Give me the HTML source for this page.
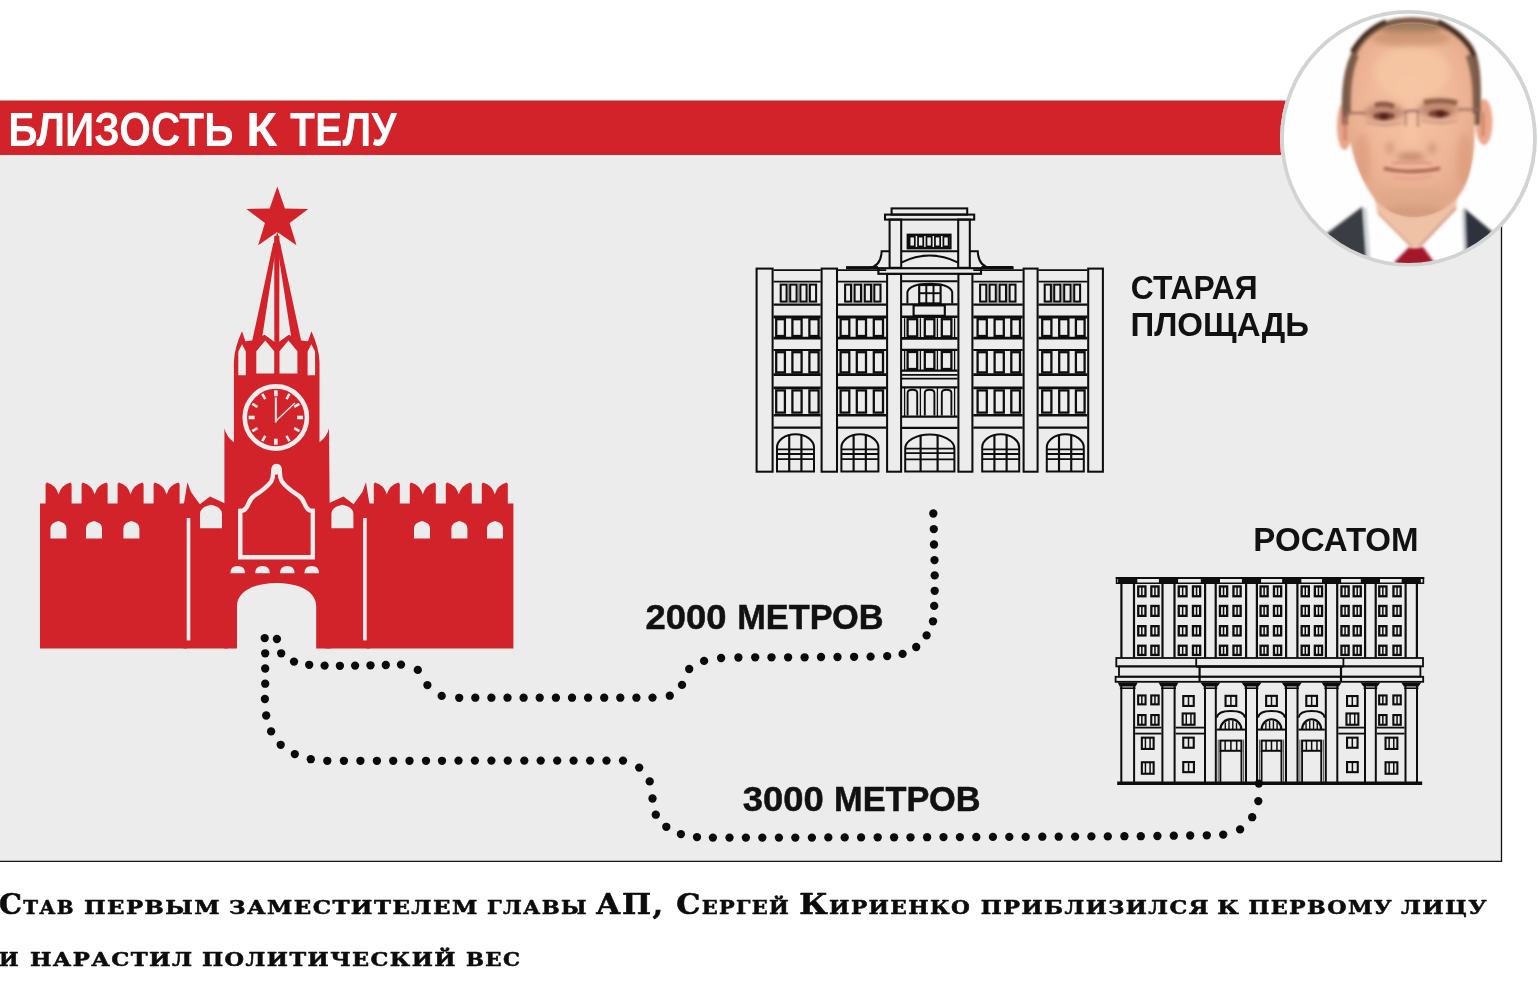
<!DOCTYPE html>
<html lang="ru">
<head>
<meta charset="utf-8">
<title>Близость к телу</title>
<style>
html,body{margin:0;padding:0;background:#fff;}
body{width:1538px;height:1000px;overflow:hidden;}
svg{display:block;}
</style>
</head>
<body>
<svg width="1538" height="1000" viewBox="0 0 1538 1000">
<rect width="1538" height="1000" fill="#fff"/>
<rect x="0" y="100.5" width="1501.5" height="761" fill="#ececec"/>
<path d="M1501.5 100.5V861.4H0" fill="none" stroke="#111" stroke-width="1.3"/>
<rect x="0" y="100.5" width="1420" height="54.5" fill="#d2232a"/>
<g id="kremlin">
<g fill="#d2232a"><path d="M40,503.6H187V648.6H40Z"/><path d="M366.4,503.6H513.4V648.6H366.4Z"/><path d="M45.6,504.5L45.6,483.9L46.800000000000004,482.4Q56.1,484.9 58.6,494.5Q61.099999999999994,484.9 70.39999999999999,482.4L71.6,483.9L71.6,504.5Z"/><path d="M481.8,504.5L481.8,483.9L483.0,482.4Q492.3,484.9 494.8,494.5Q497.3,484.9 506.6,482.4L507.8,483.9L507.8,504.5Z"/><path d="M81.6,504.5L81.6,483.9L82.8,482.4Q92.1,484.9 94.6,494.5Q97.1,484.9 106.39999999999999,482.4L107.6,483.9L107.6,504.5Z"/><path d="M445.8,504.5L445.8,483.9L447.0,482.4Q456.3,484.9 458.8,494.5Q461.3,484.9 470.6,482.4L471.8,483.9L471.8,504.5Z"/><path d="M117.6,504.5L117.6,483.9L118.8,482.4Q128.1,484.9 130.6,494.5Q133.1,484.9 142.4,482.4L143.6,483.9L143.6,504.5Z"/><path d="M409.8,504.5L409.8,483.9L411.0,482.4Q420.3,484.9 422.8,494.5Q425.3,484.9 434.6,482.4L435.8,483.9L435.8,504.5Z"/><path d="M153.6,504.5L153.6,483.9L154.79999999999998,482.4Q164.1,484.9 166.6,494.5Q169.1,484.9 178.4,482.4L179.6,483.9L179.6,504.5Z"/><path d="M373.8,504.5L373.8,483.9L375.0,482.4Q384.3,484.9 386.8,494.5Q389.3,484.9 398.6,482.4L399.8,483.9L399.8,504.5Z"/><path d="M183.5,505L184.6,500L187.4,482.2L191,492L199.8,504.2L210,496.6L224.6,503.2L228,503.2L228,648.6L183.5,648.6Z"/><path d="M369.9,505L368.8,500L366.0,482.2L362.4,492L353.6,504.2L343.4,496.6L328.8,503.2L325.4,503.2L325.4,648.6L369.9,648.6Z"/><path d="M224.4,648.6L224.4,428.2Q226.5,437 233.9,442.2L233.9,362Q234.3,348 242,331.3L245.4,341.2L252,340.6L264.6,334.8L276.7,343.5L288.8,334.8L301.4,340.6L308.0,341.2L311.4,331.3Q319.1,348 319.5,362L319.5,442.2Q326.9,437 329.0,428.2L330.8,648.6L329.0,648.6Z"/></g>
<polygon points="274.2,236 279.4,236 279.3,345 274.3,345" fill="#d2232a"/>
<polygon points="273.2,243.5 277.2,240 261.6,341 252.2,341" fill="#d2232a"/>
<polygon points="280.2,243.5 276.2,240 291.8,341 301.2,341" fill="#d2232a"/>
<polygon points="277.3,231 280.6,246 274,246" fill="#d2232a"/>
<polygon points="277.30,186.40 284.94,208.48 308.30,208.93 289.66,223.02 296.46,245.37 277.30,232.00 258.14,245.37 264.94,223.02 246.30,208.93 269.66,208.48" fill="#d2232a"/>
<path d="M238.3,375.2L238.3,351.5L242.05,344.3L245.8,351.5L245.8,375.2ZM307.6,375.2L307.6,351.5L311.35,344.3L315.1,351.5L315.1,375.2ZM256.3,373.6L256.3,351.2L265.25,340.6L274.2,351.2L274.2,373.6ZM279.5,373.6L279.5,351.2L288.45,340.6L297.4,351.2L297.4,373.6ZM237,650L237,606C237,592 253,583 276.6,583C300,583 316.2,592 316.2,606L316.2,650ZM200,528.2L200,514Q200,507.10 211.0,504.8Q222,507.10 222,514L222,528.2ZM331.4,528.2L331.4,514Q331.4,507.10 342.4,504.8Q353.4,507.10 353.4,514L353.4,528.2ZM50.4,538.6L50.4,528.5Q50.4,522.88 58.400000000000006,521Q66.4,522.88 66.4,528.5L66.4,538.6ZM487.0,538.6L487.0,528.5Q487.0,522.88 495.0,521Q503.0,522.88 503.0,528.5L503.0,538.6ZM86,538.6L86,528.5Q86,522.88 94.0,521Q102,522.88 102,528.5L102,538.6ZM451.4,538.6L451.4,528.5Q451.4,522.88 459.4,521Q467.4,522.88 467.4,528.5L467.4,538.6ZM123.4,538.6L123.4,528.5Q123.4,522.88 131.4,521Q139.4,522.88 139.4,528.5L139.4,538.6ZM414.0,538.6L414.0,528.5Q414.0,522.88 422.0,521Q430.0,522.88 430.0,528.5L430.0,538.6ZM230.4,573.2Q230.4,566 237.70000000000002,566Q245.0,566 245.0,573.2ZM255.2,573.2Q255.2,566 262.5,566Q269.8,566 269.8,573.2ZM280,573.2Q280,566 287.3,566Q294.6,566 294.6,573.2ZM304.4,573.2Q304.4,566 311.7,566Q319.0,566 319.0,573.2Z" fill="#ececec"/>
<rect x="186.7" y="518" width="3.6" height="122.4" fill="#f1eded"/>
<rect x="363.10" y="518" width="3.6" height="122.4" fill="#f1eded"/>
<path d="M240.3,557.2L240.3,510.8L243.5,510.4Q246.8,508.6 248.6,503.6Q250.4,498.4 254.5,495.6Q266,488.5 271.2,481.5Q273.4,477.5 273.2,471.5Q273.2,466 276.55,466Q279.9,466 279.9,471.5Q279.7,477.5 281.9,481.5Q287.1,488.5 298.6,495.6Q302.7,498.4 304.5,503.6Q306.3,508.6 309.6,510.4L312.8,510.8L312.8,557.2Z" fill="none" stroke="#f1eded" stroke-width="4.4" stroke-linejoin="miter"/>
<ellipse cx="276.55" cy="469.8" rx="4.2" ry="5" fill="#f1eded"/>
<circle cx="275.85" cy="417.5" r="31.1" fill="none" stroke="#f1eded" stroke-width="4.6"/>
<rect x="274.05" y="390.30" width="3.6" height="6" fill="#f1eded" transform="rotate(0 275.85 417.5)"/>
<rect x="274.55" y="390.30" width="2.6" height="6" fill="#f1eded" transform="rotate(30 275.85 417.5)"/>
<rect x="274.55" y="390.30" width="2.6" height="6" fill="#f1eded" transform="rotate(60 275.85 417.5)"/>
<rect x="274.05" y="390.30" width="3.6" height="6" fill="#f1eded" transform="rotate(90 275.85 417.5)"/>
<rect x="274.55" y="390.30" width="2.6" height="6" fill="#f1eded" transform="rotate(120 275.85 417.5)"/>
<rect x="274.55" y="390.30" width="2.6" height="6" fill="#f1eded" transform="rotate(150 275.85 417.5)"/>
<rect x="274.05" y="390.30" width="3.6" height="6" fill="#f1eded" transform="rotate(180 275.85 417.5)"/>
<rect x="274.55" y="390.30" width="2.6" height="6" fill="#f1eded" transform="rotate(210 275.85 417.5)"/>
<rect x="274.55" y="390.30" width="2.6" height="6" fill="#f1eded" transform="rotate(240 275.85 417.5)"/>
<rect x="274.05" y="390.30" width="3.6" height="6" fill="#f1eded" transform="rotate(270 275.85 417.5)"/>
<rect x="274.55" y="390.30" width="2.6" height="6" fill="#f1eded" transform="rotate(300 275.85 417.5)"/>
<rect x="274.55" y="390.30" width="2.6" height="6" fill="#f1eded" transform="rotate(330 275.85 417.5)"/>
<path d="M275.85,422.5L275.85,397.5" stroke="#f1eded" stroke-width="2" fill="none"/>
<path d="M275.85,421.0L294.85,403.0" stroke="#f1eded" stroke-width="1.3" fill="none"/>
</g>
<g id="bld1">
<g fill="none" stroke="#0d0d0d" stroke-width="1.9" stroke-linejoin="miter" stroke-linecap="butt">
<rect x="756.60" y="268.60" width="16.00" height="203.10" fill="none" stroke-width="2.05"/>
<rect x="821.60" y="268.60" width="15.40" height="203.10" fill="none" stroke-width="2.05"/>
<rect x="1023.60" y="268.60" width="14.00" height="203.10" fill="none" stroke-width="2.05"/>
<rect x="1088.20" y="268.60" width="14.70" height="203.10" fill="none" stroke-width="2.05"/>
<rect x="887.10" y="274.00" width="14.00" height="197.70" fill="none" stroke-width="2.05"/>
<rect x="958.40" y="274.00" width="14.00" height="197.70" fill="none" stroke-width="2.05"/>
<path d="M773.50,270.10H820.70" stroke-width="1.94"/><path d="M773.50,281.60H820.70" stroke-width="1.94"/><path d="M773.50,304.60H820.70" stroke-width="2.16"/><path d="M773.50,317.00H820.70" stroke-width="2.81"/><path d="M773.50,338.20H820.70" stroke-width="2.81"/><path d="M773.50,350.00H820.70" stroke-width="2.16"/><path d="M773.50,374.60H820.70" stroke-width="2.59"/><path d="M773.50,387.90H820.70" stroke-width="2.59"/><path d="M773.50,415.20H820.70" stroke-width="2.59"/><path d="M773.50,427.60H820.70" stroke-width="2.16"/><rect x="780.70" y="284.60" width="5.90" height="17.00" fill="none" stroke-width="2.05"/><rect x="790.20" y="284.60" width="6.40" height="17.00" fill="none" stroke-width="2.05"/><rect x="800.40" y="284.60" width="6.20" height="17.00" fill="none" stroke-width="2.05"/><rect x="809.90" y="284.60" width="6.20" height="17.00" fill="none" stroke-width="2.05"/><path d="M788.50,283.00V303.50" stroke-width="0.76" stroke="#777"/><path d="M798.50,283.00V303.50" stroke-width="0.76" stroke="#777"/><path d="M808.20,283.00V303.50" stroke-width="0.76" stroke="#777"/><rect x="776.20" y="319.20" width="8.70" height="16.80" fill="none" stroke-width="2.27"/><rect x="792.40" y="319.20" width="9.20" height="16.80" fill="none" stroke-width="2.27"/><rect x="809.40" y="319.20" width="9.20" height="16.80" fill="none" stroke-width="2.27"/><rect x="776.20" y="352.20" width="8.70" height="20.20" fill="none" stroke-width="2.27"/><rect x="792.40" y="352.20" width="9.20" height="20.20" fill="none" stroke-width="2.27"/><rect x="809.40" y="352.20" width="9.20" height="20.20" fill="none" stroke-width="2.27"/><rect x="776.20" y="390.40" width="8.70" height="22.20" fill="none" stroke-width="2.27"/><rect x="792.40" y="390.40" width="9.20" height="22.20" fill="none" stroke-width="2.27"/><rect x="809.40" y="390.40" width="9.20" height="22.20" fill="none" stroke-width="2.27"/><path d="M777.00,471.60V447.50A18.50,13.30 0 0 1 814.00,447.50V471.60Z" stroke-width="2"/><path d="M789.21,435.40V471.60" stroke-width="2.16"/><path d="M801.42,435.40V471.60" stroke-width="2.16"/><path d="M777.00,449.40H814.00" stroke-width="1.84"/><path d="M777.00,454.00H814.00" stroke-width="1.84"/><path d="M777.00,459.20H814.00" stroke-width="1.84"/>
<path d="M837.90,270.10H886.20" stroke-width="1.94"/><path d="M837.90,281.60H886.20" stroke-width="1.94"/><path d="M837.90,304.60H886.20" stroke-width="2.16"/><path d="M837.90,317.00H886.20" stroke-width="2.81"/><path d="M837.90,338.20H886.20" stroke-width="2.81"/><path d="M837.90,350.00H886.20" stroke-width="2.16"/><path d="M837.90,374.60H886.20" stroke-width="2.59"/><path d="M837.90,387.90H886.20" stroke-width="2.59"/><path d="M837.90,415.20H886.20" stroke-width="2.59"/><path d="M837.90,427.60H886.20" stroke-width="2.16"/><rect x="845.10" y="284.60" width="5.90" height="17.00" fill="none" stroke-width="2.05"/><rect x="854.60" y="284.60" width="6.40" height="17.00" fill="none" stroke-width="2.05"/><rect x="864.80" y="284.60" width="6.20" height="17.00" fill="none" stroke-width="2.05"/><rect x="874.30" y="284.60" width="6.20" height="17.00" fill="none" stroke-width="2.05"/><path d="M852.90,283.00V303.50" stroke-width="0.76" stroke="#777"/><path d="M862.90,283.00V303.50" stroke-width="0.76" stroke="#777"/><path d="M872.60,283.00V303.50" stroke-width="0.76" stroke="#777"/><rect x="840.60" y="319.20" width="8.70" height="16.80" fill="none" stroke-width="2.27"/><rect x="856.80" y="319.20" width="9.20" height="16.80" fill="none" stroke-width="2.27"/><rect x="873.80" y="319.20" width="9.20" height="16.80" fill="none" stroke-width="2.27"/><rect x="840.60" y="352.20" width="8.70" height="20.20" fill="none" stroke-width="2.27"/><rect x="856.80" y="352.20" width="9.20" height="20.20" fill="none" stroke-width="2.27"/><rect x="873.80" y="352.20" width="9.20" height="20.20" fill="none" stroke-width="2.27"/><rect x="840.60" y="390.40" width="8.70" height="22.20" fill="none" stroke-width="2.27"/><rect x="856.80" y="390.40" width="9.20" height="22.20" fill="none" stroke-width="2.27"/><rect x="873.80" y="390.40" width="9.20" height="22.20" fill="none" stroke-width="2.27"/><path d="M841.40,471.60V447.50A18.50,13.30 0 0 1 878.40,447.50V471.60Z" stroke-width="2"/><path d="M853.61,435.40V471.60" stroke-width="2.16"/><path d="M865.82,435.40V471.60" stroke-width="2.16"/><path d="M841.40,449.40H878.40" stroke-width="1.84"/><path d="M841.40,454.00H878.40" stroke-width="1.84"/><path d="M841.40,459.20H878.40" stroke-width="1.84"/>
<path d="M973.30,270.10H1022.70" stroke-width="1.94"/><path d="M973.30,281.60H1022.70" stroke-width="1.94"/><path d="M973.30,304.60H1022.70" stroke-width="2.16"/><path d="M973.30,317.00H1022.70" stroke-width="2.81"/><path d="M973.30,338.20H1022.70" stroke-width="2.81"/><path d="M973.30,350.00H1022.70" stroke-width="2.16"/><path d="M973.30,374.60H1022.70" stroke-width="2.59"/><path d="M973.30,387.90H1022.70" stroke-width="2.59"/><path d="M973.30,415.20H1022.70" stroke-width="2.59"/><path d="M973.30,427.60H1022.70" stroke-width="2.16"/><rect x="1009.60" y="284.60" width="5.90" height="17.00" fill="none" stroke-width="2.05"/><rect x="999.60" y="284.60" width="6.40" height="17.00" fill="none" stroke-width="2.05"/><rect x="989.60" y="284.60" width="6.20" height="17.00" fill="none" stroke-width="2.05"/><rect x="980.10" y="284.60" width="6.20" height="17.00" fill="none" stroke-width="2.05"/><path d="M1007.70,283.00V303.50" stroke-width="0.76" stroke="#777"/><path d="M997.70,283.00V303.50" stroke-width="0.76" stroke="#777"/><path d="M988.00,283.00V303.50" stroke-width="0.76" stroke="#777"/><rect x="1011.30" y="319.20" width="8.70" height="16.80" fill="none" stroke-width="2.27"/><rect x="994.60" y="319.20" width="9.20" height="16.80" fill="none" stroke-width="2.27"/><rect x="977.60" y="319.20" width="9.20" height="16.80" fill="none" stroke-width="2.27"/><rect x="1011.30" y="352.20" width="8.70" height="20.20" fill="none" stroke-width="2.27"/><rect x="994.60" y="352.20" width="9.20" height="20.20" fill="none" stroke-width="2.27"/><rect x="977.60" y="352.20" width="9.20" height="20.20" fill="none" stroke-width="2.27"/><rect x="1011.30" y="390.40" width="8.70" height="22.20" fill="none" stroke-width="2.27"/><rect x="994.60" y="390.40" width="9.20" height="22.20" fill="none" stroke-width="2.27"/><rect x="977.60" y="390.40" width="9.20" height="22.20" fill="none" stroke-width="2.27"/><path d="M982.20,471.60V447.50A18.50,13.30 0 0 1 1019.20,447.50V471.60Z" stroke-width="2"/><path d="M994.41,435.40V471.60" stroke-width="2.16"/><path d="M1006.62,435.40V471.60" stroke-width="2.16"/><path d="M982.20,449.40H1019.20" stroke-width="1.84"/><path d="M982.20,454.00H1019.20" stroke-width="1.84"/><path d="M982.20,459.20H1019.20" stroke-width="1.84"/>
<path d="M1038.50,270.10H1087.30" stroke-width="1.94"/><path d="M1038.50,281.60H1087.30" stroke-width="1.94"/><path d="M1038.50,304.60H1087.30" stroke-width="2.16"/><path d="M1038.50,317.00H1087.30" stroke-width="2.81"/><path d="M1038.50,338.20H1087.30" stroke-width="2.81"/><path d="M1038.50,350.00H1087.30" stroke-width="2.16"/><path d="M1038.50,374.60H1087.30" stroke-width="2.59"/><path d="M1038.50,387.90H1087.30" stroke-width="2.59"/><path d="M1038.50,415.20H1087.30" stroke-width="2.59"/><path d="M1038.50,427.60H1087.30" stroke-width="2.16"/><rect x="1074.20" y="284.60" width="5.90" height="17.00" fill="none" stroke-width="2.05"/><rect x="1064.20" y="284.60" width="6.40" height="17.00" fill="none" stroke-width="2.05"/><rect x="1054.20" y="284.60" width="6.20" height="17.00" fill="none" stroke-width="2.05"/><rect x="1044.70" y="284.60" width="6.20" height="17.00" fill="none" stroke-width="2.05"/><path d="M1072.30,283.00V303.50" stroke-width="0.76" stroke="#777"/><path d="M1062.30,283.00V303.50" stroke-width="0.76" stroke="#777"/><path d="M1052.60,283.00V303.50" stroke-width="0.76" stroke="#777"/><rect x="1075.90" y="319.20" width="8.70" height="16.80" fill="none" stroke-width="2.27"/><rect x="1059.20" y="319.20" width="9.20" height="16.80" fill="none" stroke-width="2.27"/><rect x="1042.20" y="319.20" width="9.20" height="16.80" fill="none" stroke-width="2.27"/><rect x="1075.90" y="352.20" width="8.70" height="20.20" fill="none" stroke-width="2.27"/><rect x="1059.20" y="352.20" width="9.20" height="20.20" fill="none" stroke-width="2.27"/><rect x="1042.20" y="352.20" width="9.20" height="20.20" fill="none" stroke-width="2.27"/><rect x="1075.90" y="390.40" width="8.70" height="22.20" fill="none" stroke-width="2.27"/><rect x="1059.20" y="390.40" width="9.20" height="22.20" fill="none" stroke-width="2.27"/><rect x="1042.20" y="390.40" width="9.20" height="22.20" fill="none" stroke-width="2.27"/><path d="M1046.80,471.60V447.50A18.50,13.30 0 0 1 1083.80,447.50V471.60Z" stroke-width="2"/><path d="M1059.01,435.40V471.60" stroke-width="2.16"/><path d="M1071.22,435.40V471.60" stroke-width="2.16"/><path d="M1046.80,449.40H1083.80" stroke-width="1.84"/><path d="M1046.80,454.00H1083.80" stroke-width="1.84"/><path d="M1046.80,459.20H1083.80" stroke-width="1.84"/>
<rect x="891.60" y="208.40" width="75.60" height="6.20" fill="none" stroke-width="2.05"/>
<rect x="885.00" y="214.60" width="89.20" height="5.00" fill="none" stroke-width="2.05"/>
<rect x="889.60" y="219.60" width="11.60" height="48.20" fill="none" stroke-width="2.05"/>
<rect x="958.20" y="219.60" width="11.60" height="48.20" fill="none" stroke-width="2.05"/>
<rect x="907.80" y="234.80" width="42.60" height="13.40" fill="none" stroke-width="2.38"/>
<rect x="909.60" y="236.60" width="5.20" height="9.80" fill="none" stroke-width="1.73"/>
<rect x="918.05" y="236.60" width="5.20" height="9.80" fill="none" stroke-width="1.73"/>
<rect x="926.50" y="236.60" width="5.20" height="9.80" fill="none" stroke-width="1.73"/>
<rect x="934.95" y="236.60" width="5.20" height="9.80" fill="none" stroke-width="1.73"/>
<rect x="943.40" y="236.60" width="5.20" height="9.80" fill="none" stroke-width="1.73"/>
<path d="M901.20,251.20H958.20" stroke-width="1.94"/>
<path d="M901.2,262.6Q929.6,248.6 958.2,262.6" stroke-width="2"/>
<rect x="878.40" y="268.20" width="102.60" height="5.60" fill="none" stroke-width="2.16"/>
<path d="M889.6,251.2H881.6Q881.2,266.6 868,268.2H846" stroke-width="2"/>
<path d="M878,267.6H846" stroke-width="3"/>
<path d="M969.8,251.2H977.8Q978.2,266.6 991.4,268.2H1013.4" stroke-width="2"/>
<path d="M981.4,267.6H1013.4" stroke-width="3"/>
<path d="M902.00,281.20H957.60" stroke-width="1.94"/>
<path d="M902.00,304.40H957.60" stroke-width="2.38"/>
<path d="M902.00,316.80H957.60" stroke-width="2.59"/>
<path d="M902.00,338.40H957.60" stroke-width="2.59"/>
<path d="M902.00,349.80H957.60" stroke-width="2.16"/>
<path d="M902.00,370.60H957.60" stroke-width="2.16"/>
<path d="M902.00,374.80H957.60" stroke-width="1.73"/>
<path d="M902.00,378.60H957.60" stroke-width="1.94"/>
<path d="M902.00,387.40H957.60" stroke-width="2.16"/>
<path d="M902.00,416.60H957.60" stroke-width="2.38"/>
<path d="M902.00,427.80H957.60" stroke-width="2.16"/>
<path d="M907.4,303.6V292Q910,283.8 929.8,283.8Q949.6,283.8 952.2,292V303.6" stroke-width="2"/>
<rect x="919.20" y="285.00" width="21.40" height="18.40" fill="none" stroke-width="2.16"/>
<path d="M926.30,285.00V303.40" stroke-width="1.94"/>
<path d="M933.50,285.00V303.40" stroke-width="1.94"/>
<path d="M919.20,293.20H940.60" stroke-width="1.94"/>
<rect x="913.60" y="305.40" width="31.20" height="10.40" fill="none" stroke-width="2.16"/>
<rect x="907.60" y="319.20" width="9.60" height="17.20" fill="none" stroke-width="2.27"/>
<rect x="924.80" y="319.20" width="9.60" height="17.20" fill="none" stroke-width="2.27"/>
<rect x="941.80" y="319.20" width="9.60" height="17.20" fill="none" stroke-width="2.27"/>
<path d="M904.60,318.20V337.40" stroke-width="1.30"/>
<path d="M920.40,318.20V337.40" stroke-width="1.30"/>
<path d="M937.40,318.20V337.40" stroke-width="1.30"/>
<path d="M954.60,318.20V337.40" stroke-width="1.30"/>
<rect x="907.60" y="352.00" width="9.60" height="17.00" fill="none" stroke-width="2.27"/>
<rect x="924.80" y="352.00" width="9.60" height="17.00" fill="none" stroke-width="2.27"/>
<rect x="941.80" y="352.00" width="9.60" height="17.00" fill="none" stroke-width="2.27"/>
<path d="M904.60,351.00V370.00" stroke-width="1.30"/>
<path d="M920.40,351.00V370.00" stroke-width="1.30"/>
<path d="M937.40,351.00V370.00" stroke-width="1.30"/>
<path d="M954.60,351.00V370.00" stroke-width="1.30"/>
<path d="M907.6,415.4V393Q907.6,389.8 912.4,389.8Q917.2,389.8 917.2,393V415.4" stroke-width="1.9"/>
<path d="M924.8,415.4V393Q924.8,389.8 929.5999999999999,389.8Q934.4,389.8 934.4,393V415.4" stroke-width="1.9"/>
<path d="M941.8,415.4V393Q941.8,389.8 946.5999999999999,389.8Q951.4,389.8 951.4,393V415.4" stroke-width="1.9"/>
<path d="M904.60,388.00V416.00" stroke-width="1.30"/>
<path d="M920.40,388.00V416.00" stroke-width="1.30"/>
<path d="M937.40,388.00V416.00" stroke-width="1.30"/>
<path d="M954.60,388.00V416.00" stroke-width="1.30"/>
<path d="M905.20,471.60V448.50A24.60,14.10 0 0 1 954.40,448.50V471.60Z" stroke-width="2"/><path d="M920.60,435.60V471.60" stroke-width="2.16"/><path d="M937.60,435.60V471.60" stroke-width="2.16"/><path d="M905.20,448.60H954.40" stroke-width="1.84"/><path d="M905.20,453.20H954.40" stroke-width="1.84"/><path d="M905.20,459.40H954.40" stroke-width="1.84"/>
</g>
</g>
<g id="bld2">
<g fill="none" stroke="#0d0d0d" stroke-width="1.8" stroke-linecap="butt" stroke-linejoin="miter">
<path d="M1115.8,578.0H1424.2" stroke-width="2.0"/>
<path d="M1116.6,583.3H1423.4" stroke-width="1.5"/>
<path d="M1116.6,577H1116.6V584M1423.4,577V584" stroke-width="1.6"/>
<rect x="1118.10" y="577.2" width="19.2" height="6.8" fill="#0d0d0d" stroke="none"/>
<rect x="1158.90" y="577.2" width="19.2" height="6.8" fill="#0d0d0d" stroke="none"/>
<rect x="1200.80" y="577.2" width="19.2" height="6.8" fill="#0d0d0d" stroke="none"/>
<rect x="1241.90" y="577.2" width="19.2" height="6.8" fill="#0d0d0d" stroke="none"/>
<rect x="1282.15" y="577.2" width="19.2" height="6.8" fill="#0d0d0d" stroke="none"/>
<rect x="1321.95" y="577.2" width="19.2" height="6.8" fill="#0d0d0d" stroke="none"/>
<rect x="1360.80" y="577.2" width="19.2" height="6.8" fill="#0d0d0d" stroke="none"/>
<rect x="1401.65" y="577.2" width="19.2" height="6.8" fill="#0d0d0d" stroke="none"/>
<path d="M1121.40,583.50V657.50" stroke-width="2.2"/>
<path d="M1134.00,583.50V657.50" stroke-width="2.2"/>
<path d="M1162.50,583.50V657.50" stroke-width="2.2"/>
<path d="M1174.50,583.50V657.50" stroke-width="2.2"/>
<path d="M1205.10,583.50V657.50" stroke-width="2.2"/>
<path d="M1215.70,583.50V657.50" stroke-width="2.2"/>
<path d="M1246.10,583.50V657.50" stroke-width="2.2"/>
<path d="M1256.90,583.50V657.50" stroke-width="2.2"/>
<path d="M1286.10,583.50V657.50" stroke-width="2.2"/>
<path d="M1297.40,583.50V657.50" stroke-width="2.2"/>
<path d="M1325.90,583.50V657.50" stroke-width="2.2"/>
<path d="M1337.20,583.50V657.50" stroke-width="2.2"/>
<path d="M1365.10,583.50V657.50" stroke-width="2.2"/>
<path d="M1375.70,583.50V657.50" stroke-width="2.2"/>
<path d="M1405.60,583.50V657.50" stroke-width="2.2"/>
<path d="M1416.90,583.50V657.50" stroke-width="2.2"/>
<rect x="1138.25" y="586.45" width="7.20" height="9.80" stroke-width="2.3"/><path d="M1141.85,586.45V596.25" stroke-width="1.5"/>
<rect x="1138.25" y="605.95" width="7.20" height="9.90" stroke-width="2.3"/><path d="M1141.85,605.95V615.85" stroke-width="1.5"/>
<rect x="1138.25" y="626.15" width="7.20" height="9.30" stroke-width="2.3"/><path d="M1141.85,626.15V635.45" stroke-width="1.5"/>
<rect x="1138.25" y="645.75" width="7.20" height="9.20" stroke-width="2.3"/><path d="M1141.85,645.75V654.95" stroke-width="1.5"/>
<rect x="1151.35" y="586.45" width="7.20" height="9.80" stroke-width="2.3"/><path d="M1154.95,586.45V596.25" stroke-width="1.5"/>
<rect x="1151.35" y="605.95" width="7.20" height="9.90" stroke-width="2.3"/><path d="M1154.95,605.95V615.85" stroke-width="1.5"/>
<rect x="1151.35" y="626.15" width="7.20" height="9.30" stroke-width="2.3"/><path d="M1154.95,626.15V635.45" stroke-width="1.5"/>
<rect x="1151.35" y="645.75" width="7.20" height="9.20" stroke-width="2.3"/><path d="M1154.95,645.75V654.95" stroke-width="1.5"/>
<rect x="1178.75" y="586.45" width="7.80" height="9.80" stroke-width="2.3"/><path d="M1182.65,586.45V596.25" stroke-width="1.5"/>
<rect x="1178.75" y="605.95" width="7.80" height="9.90" stroke-width="2.3"/><path d="M1182.65,605.95V615.85" stroke-width="1.5"/>
<rect x="1178.75" y="626.15" width="7.80" height="9.30" stroke-width="2.3"/><path d="M1182.65,626.15V635.45" stroke-width="1.5"/>
<rect x="1178.75" y="645.75" width="7.80" height="9.20" stroke-width="2.3"/><path d="M1182.65,645.75V654.95" stroke-width="1.5"/>
<rect x="1192.95" y="586.45" width="7.20" height="9.80" stroke-width="2.3"/><path d="M1196.55,586.45V596.25" stroke-width="1.5"/>
<rect x="1192.95" y="605.95" width="7.20" height="9.90" stroke-width="2.3"/><path d="M1196.55,605.95V615.85" stroke-width="1.5"/>
<rect x="1192.95" y="626.15" width="7.20" height="9.30" stroke-width="2.3"/><path d="M1196.55,626.15V635.45" stroke-width="1.5"/>
<rect x="1192.95" y="645.75" width="7.20" height="9.20" stroke-width="2.3"/><path d="M1196.55,645.75V654.95" stroke-width="1.5"/>
<rect x="1219.95" y="586.45" width="7.20" height="9.80" stroke-width="2.3"/><path d="M1223.55,586.45V596.25" stroke-width="1.5"/>
<rect x="1219.95" y="605.95" width="7.20" height="9.90" stroke-width="2.3"/><path d="M1223.55,605.95V615.85" stroke-width="1.5"/>
<rect x="1219.95" y="626.15" width="7.20" height="9.30" stroke-width="2.3"/><path d="M1223.55,626.15V635.45" stroke-width="1.5"/>
<rect x="1219.95" y="645.75" width="7.20" height="9.20" stroke-width="2.3"/><path d="M1223.55,645.75V654.95" stroke-width="1.5"/>
<rect x="1233.45" y="586.45" width="7.20" height="9.80" stroke-width="2.3"/><path d="M1237.05,586.45V596.25" stroke-width="1.5"/>
<rect x="1233.45" y="605.95" width="7.20" height="9.90" stroke-width="2.3"/><path d="M1237.05,605.95V615.85" stroke-width="1.5"/>
<rect x="1233.45" y="626.15" width="7.20" height="9.30" stroke-width="2.3"/><path d="M1237.05,626.15V635.45" stroke-width="1.5"/>
<rect x="1233.45" y="645.75" width="7.20" height="9.20" stroke-width="2.3"/><path d="M1237.05,645.75V654.95" stroke-width="1.5"/>
<rect x="1260.55" y="586.45" width="7.10" height="9.80" stroke-width="2.3"/><path d="M1264.10,586.45V596.25" stroke-width="1.5"/>
<rect x="1260.55" y="605.95" width="7.10" height="9.90" stroke-width="2.3"/><path d="M1264.10,605.95V615.85" stroke-width="1.5"/>
<rect x="1260.55" y="626.15" width="7.10" height="9.30" stroke-width="2.3"/><path d="M1264.10,626.15V635.45" stroke-width="1.5"/>
<rect x="1260.55" y="645.75" width="7.10" height="9.20" stroke-width="2.3"/><path d="M1264.10,645.75V654.95" stroke-width="1.5"/>
<rect x="1273.95" y="586.45" width="7.20" height="9.80" stroke-width="2.3"/><path d="M1277.55,586.45V596.25" stroke-width="1.5"/>
<rect x="1273.95" y="605.95" width="7.20" height="9.90" stroke-width="2.3"/><path d="M1277.55,605.95V615.85" stroke-width="1.5"/>
<rect x="1273.95" y="626.15" width="7.20" height="9.30" stroke-width="2.3"/><path d="M1277.55,626.15V635.45" stroke-width="1.5"/>
<rect x="1273.95" y="645.75" width="7.20" height="9.20" stroke-width="2.3"/><path d="M1277.55,645.75V654.95" stroke-width="1.5"/>
<rect x="1301.65" y="586.45" width="7.20" height="9.80" stroke-width="2.3"/><path d="M1305.25,586.45V596.25" stroke-width="1.5"/>
<rect x="1301.65" y="605.95" width="7.20" height="9.90" stroke-width="2.3"/><path d="M1305.25,605.95V615.85" stroke-width="1.5"/>
<rect x="1301.65" y="626.15" width="7.20" height="9.30" stroke-width="2.3"/><path d="M1305.25,626.15V635.45" stroke-width="1.5"/>
<rect x="1301.65" y="645.75" width="7.20" height="9.20" stroke-width="2.3"/><path d="M1305.25,645.75V654.95" stroke-width="1.5"/>
<rect x="1314.85" y="586.45" width="7.20" height="9.80" stroke-width="2.3"/><path d="M1318.45,586.45V596.25" stroke-width="1.5"/>
<rect x="1314.85" y="605.95" width="7.20" height="9.90" stroke-width="2.3"/><path d="M1318.45,605.95V615.85" stroke-width="1.5"/>
<rect x="1314.85" y="626.15" width="7.20" height="9.30" stroke-width="2.3"/><path d="M1318.45,626.15V635.45" stroke-width="1.5"/>
<rect x="1314.85" y="645.75" width="7.20" height="9.20" stroke-width="2.3"/><path d="M1318.45,645.75V654.95" stroke-width="1.5"/>
<rect x="1341.45" y="586.45" width="7.20" height="9.80" stroke-width="2.3"/><path d="M1345.05,586.45V596.25" stroke-width="1.5"/>
<rect x="1341.45" y="605.95" width="7.20" height="9.90" stroke-width="2.3"/><path d="M1345.05,605.95V615.85" stroke-width="1.5"/>
<rect x="1341.45" y="626.15" width="7.20" height="9.30" stroke-width="2.3"/><path d="M1345.05,626.15V635.45" stroke-width="1.5"/>
<rect x="1341.45" y="645.75" width="7.20" height="9.20" stroke-width="2.3"/><path d="M1345.05,645.75V654.95" stroke-width="1.5"/>
<rect x="1353.65" y="586.45" width="7.10" height="9.80" stroke-width="2.3"/><path d="M1357.20,586.45V596.25" stroke-width="1.5"/>
<rect x="1353.65" y="605.95" width="7.10" height="9.90" stroke-width="2.3"/><path d="M1357.20,605.95V615.85" stroke-width="1.5"/>
<rect x="1353.65" y="626.15" width="7.10" height="9.30" stroke-width="2.3"/><path d="M1357.20,626.15V635.45" stroke-width="1.5"/>
<rect x="1353.65" y="645.75" width="7.10" height="9.20" stroke-width="2.3"/><path d="M1357.20,645.75V654.95" stroke-width="1.5"/>
<rect x="1379.25" y="586.45" width="7.20" height="9.80" stroke-width="2.3"/><path d="M1382.85,586.45V596.25" stroke-width="1.5"/>
<rect x="1379.25" y="605.95" width="7.20" height="9.90" stroke-width="2.3"/><path d="M1382.85,605.95V615.85" stroke-width="1.5"/>
<rect x="1379.25" y="626.15" width="7.20" height="9.30" stroke-width="2.3"/><path d="M1382.85,626.15V635.45" stroke-width="1.5"/>
<rect x="1379.25" y="645.75" width="7.20" height="9.20" stroke-width="2.3"/><path d="M1382.85,645.75V654.95" stroke-width="1.5"/>
<rect x="1393.45" y="586.45" width="7.20" height="9.80" stroke-width="2.3"/><path d="M1397.05,586.45V596.25" stroke-width="1.5"/>
<rect x="1393.45" y="605.95" width="7.20" height="9.90" stroke-width="2.3"/><path d="M1397.05,605.95V615.85" stroke-width="1.5"/>
<rect x="1393.45" y="626.15" width="7.20" height="9.30" stroke-width="2.3"/><path d="M1397.05,626.15V635.45" stroke-width="1.5"/>
<rect x="1393.45" y="645.75" width="7.20" height="9.20" stroke-width="2.3"/><path d="M1397.05,645.75V654.95" stroke-width="1.5"/>
<rect x="1116.30" y="658.00" width="306.70" height="8.40" stroke-width="1.8"/>
<path d="M1196.20,658.00V666.40" stroke-width="1.8"/>
<path d="M1343.40,658.00V666.40" stroke-width="1.8"/>
<path d="M1196.20,666.60H1343.40" stroke-width="2.4"/>
<rect x="1119.00" y="666.40" width="301.40" height="10.20" stroke-width="1.8"/>
<path d="M1199.60,666.40V682.00" stroke-width="2.2"/>
<path d="M1341.00,666.40V682.00" stroke-width="2.2"/>
<rect x="1115.60" y="676.80" width="307.60" height="5.00" stroke-width="1.8"/>
<path d="M1117.70,682.4H1137.70L1135.70,686.4H1119.70Z" fill="#0d0d0d" stroke="none"/>
<path d="M1119.90,688.20H1135.50" stroke-width="1.6"/>
<path d="M1121.30,686.00V782.00" stroke-width="2.0"/>
<path d="M1134.10,686.00V782.00" stroke-width="2.0"/>
<path d="M1158.50,682.4H1178.50L1176.20,686.4H1160.80Z" fill="#0d0d0d" stroke="none"/>
<path d="M1161.00,688.20H1176.00" stroke-width="1.6"/>
<path d="M1162.40,686.00V782.00" stroke-width="2.0"/>
<path d="M1174.60,686.00V782.00" stroke-width="2.0"/>
<path d="M1200.40,682.4H1220.40L1217.40,686.4H1203.40Z" fill="#0d0d0d" stroke="none"/>
<path d="M1203.60,688.20H1217.20" stroke-width="1.6"/>
<path d="M1205.00,686.00V782.00" stroke-width="2.0"/>
<path d="M1215.80,686.00V782.00" stroke-width="2.0"/>
<path d="M1241.50,682.4H1261.50L1258.60,686.4H1244.40Z" fill="#0d0d0d" stroke="none"/>
<path d="M1244.60,688.20H1258.40" stroke-width="1.6"/>
<path d="M1246.00,686.00V782.00" stroke-width="2.0"/>
<path d="M1257.00,686.00V782.00" stroke-width="2.0"/>
<path d="M1281.75,682.4H1301.75L1299.10,686.4H1284.40Z" fill="#0d0d0d" stroke="none"/>
<path d="M1284.60,688.20H1298.90" stroke-width="1.6"/>
<path d="M1286.00,686.00V782.00" stroke-width="2.0"/>
<path d="M1297.50,686.00V782.00" stroke-width="2.0"/>
<path d="M1321.55,682.4H1341.55L1338.90,686.4H1324.20Z" fill="#0d0d0d" stroke="none"/>
<path d="M1324.40,688.20H1338.70" stroke-width="1.6"/>
<path d="M1325.80,686.00V782.00" stroke-width="2.0"/>
<path d="M1337.30,686.00V782.00" stroke-width="2.0"/>
<path d="M1360.40,682.4H1380.40L1377.40,686.4H1363.40Z" fill="#0d0d0d" stroke="none"/>
<path d="M1363.60,688.20H1377.20" stroke-width="1.6"/>
<path d="M1365.00,686.00V782.00" stroke-width="2.0"/>
<path d="M1375.80,686.00V782.00" stroke-width="2.0"/>
<path d="M1401.25,682.4H1421.25L1418.60,686.4H1403.90Z" fill="#0d0d0d" stroke="none"/>
<path d="M1404.10,688.20H1418.40" stroke-width="1.6"/>
<path d="M1405.50,686.00V782.00" stroke-width="2.0"/>
<path d="M1417.00,686.00V782.00" stroke-width="2.0"/>
<path d="M1117.2,783.2H1422.2" stroke-width="3.6"/>
<rect x="1138.15" y="695.45" width="7.40" height="8.90" stroke-width="2.1"/><path d="M1141.85,695.45V704.35" stroke-width="1.5"/>
<rect x="1151.25" y="695.45" width="7.40" height="8.90" stroke-width="2.1"/><path d="M1154.95,695.45V704.35" stroke-width="1.5"/>
<rect x="1138.15" y="715.05" width="7.40" height="9.70" stroke-width="2.1"/><path d="M1141.85,715.05V724.75" stroke-width="1.5"/>
<rect x="1151.25" y="715.05" width="7.40" height="9.70" stroke-width="2.1"/><path d="M1154.95,715.05V724.75" stroke-width="1.5"/>
<rect x="1141.85" y="737.65" width="11.80" height="11.30" stroke-width="2.1"/><path d="M1145.43,737.65V748.95" stroke-width="1.5"/><path d="M1150.07,737.65V748.95" stroke-width="1.5"/>
<rect x="1141.85" y="762.25" width="11.80" height="11.50" stroke-width="2.1"/><path d="M1145.43,762.25V773.75" stroke-width="1.5"/><path d="M1150.07,762.25V773.75" stroke-width="1.5"/>
<rect x="1379.15" y="695.45" width="7.40" height="8.90" stroke-width="2.1"/><path d="M1382.85,695.45V704.35" stroke-width="1.5"/>
<rect x="1393.35" y="695.45" width="7.40" height="8.90" stroke-width="2.1"/><path d="M1397.05,695.45V704.35" stroke-width="1.5"/>
<rect x="1379.15" y="715.05" width="7.40" height="9.70" stroke-width="2.1"/><path d="M1382.85,715.05V724.75" stroke-width="1.5"/>
<rect x="1393.35" y="715.05" width="7.40" height="9.70" stroke-width="2.1"/><path d="M1397.05,715.05V724.75" stroke-width="1.5"/>
<rect x="1385.55" y="737.65" width="11.80" height="11.30" stroke-width="2.1"/><path d="M1389.13,737.65V748.95" stroke-width="1.5"/><path d="M1393.77,737.65V748.95" stroke-width="1.5"/>
<rect x="1385.55" y="762.25" width="11.80" height="11.50" stroke-width="2.1"/><path d="M1389.13,762.25V773.75" stroke-width="1.5"/><path d="M1393.77,762.25V773.75" stroke-width="1.5"/>
<rect x="1183.25" y="696.05" width="10.50" height="9.90" stroke-width="2.1"/><path d="M1188.50,696.05V705.95" stroke-width="1.5"/>
<rect x="1182.65" y="713.45" width="11.90" height="11.30" stroke-width="2.1"/><path d="M1186.27,713.45V724.75" stroke-width="1.5"/><path d="M1190.93,713.45V724.75" stroke-width="1.5"/>
<rect x="1183.25" y="737.65" width="10.50" height="10.10" stroke-width="2.1"/><path d="M1188.50,737.65V747.75" stroke-width="1.5"/>
<rect x="1183.25" y="762.05" width="10.70" height="10.10" stroke-width="2.1"/><path d="M1188.60,762.05V772.15" stroke-width="1.5"/>
<rect x="1347.05" y="696.05" width="10.50" height="9.90" stroke-width="2.1"/><path d="M1352.30,696.05V705.95" stroke-width="1.5"/>
<rect x="1346.45" y="713.45" width="11.90" height="11.30" stroke-width="2.1"/><path d="M1350.07,713.45V724.75" stroke-width="1.5"/><path d="M1354.73,713.45V724.75" stroke-width="1.5"/>
<rect x="1347.05" y="737.65" width="10.50" height="10.10" stroke-width="2.1"/><path d="M1352.30,737.65V747.75" stroke-width="1.5"/>
<rect x="1347.05" y="762.05" width="10.70" height="10.10" stroke-width="2.1"/><path d="M1352.40,762.05V772.15" stroke-width="1.5"/>
<path d="M1135.10,727.60H1161.40" stroke-width="1.8"/>
<path d="M1135.10,733.60H1161.40" stroke-width="1.8"/>
<path d="M1175.60,727.60H1204.00" stroke-width="1.8"/>
<path d="M1175.60,733.60H1204.00" stroke-width="1.8"/>
<path d="M1338.30,727.60H1364.00" stroke-width="1.8"/>
<path d="M1338.30,733.60H1364.00" stroke-width="1.8"/>
<path d="M1376.80,727.60H1404.50" stroke-width="1.8"/>
<path d="M1376.80,733.60H1404.50" stroke-width="1.8"/>
<rect x="1225.55" y="695.85" width="10.70" height="10.10" stroke-width="2.1"/><path d="M1230.90,695.85V705.95" stroke-width="1.5"/>
<path d="M1216.80,717.6Q1217.80,711 1230.90,711Q1244.00,711 1245.00,717.6" stroke-width="2"/>
<path d="M1220.40,729.4A10.50,10.2 0 0 1 1241.40,729.4" stroke-width="2.2"/>
<path d="M1225.30,722.60V729.40" stroke-width="1.4"/>
<path d="M1229.00,720.60V729.40" stroke-width="1.4"/>
<path d="M1232.80,720.60V729.40" stroke-width="1.4"/>
<path d="M1236.50,722.60V729.40" stroke-width="1.4"/>
<path d="M1216.80,729.60H1245.00" stroke-width="2.0"/>
<rect x="1220.40" y="740.60" width="21.00" height="10.20" stroke-width="2.0"/><path d="M1225.15,740.60V750.80" stroke-width="1.5"/><path d="M1230.90,740.60V750.80" stroke-width="1.5"/><path d="M1236.65,740.60V750.80" stroke-width="1.5"/>
<path d="M1220.40,751.00V782.00" stroke-width="1.8"/>
<path d="M1241.40,751.00V782.00" stroke-width="1.8"/>
<path d="M1218.20,739.60V782.00" stroke-width="0.7"/>
<path d="M1243.60,739.60V782.00" stroke-width="0.7"/>
<rect x="1266.15" y="695.85" width="10.70" height="10.10" stroke-width="2.1"/><path d="M1271.50,695.85V705.95" stroke-width="1.5"/>
<path d="M1258.00,717.6Q1259.00,711 1271.50,711Q1284.00,711 1285.00,717.6" stroke-width="2"/>
<path d="M1261.60,729.4A9.90,10.2 0 0 1 1281.40,729.4" stroke-width="2.2"/>
<path d="M1265.90,722.60V729.40" stroke-width="1.4"/>
<path d="M1269.60,720.60V729.40" stroke-width="1.4"/>
<path d="M1273.40,720.60V729.40" stroke-width="1.4"/>
<path d="M1277.10,722.60V729.40" stroke-width="1.4"/>
<path d="M1258.00,729.60H1285.00" stroke-width="2.0"/>
<rect x="1261.60" y="740.60" width="19.80" height="10.20" stroke-width="2.0"/><path d="M1266.05,740.60V750.80" stroke-width="1.5"/><path d="M1271.50,740.60V750.80" stroke-width="1.5"/><path d="M1276.95,740.60V750.80" stroke-width="1.5"/>
<path d="M1261.60,751.00V782.00" stroke-width="1.8"/>
<path d="M1281.40,751.00V782.00" stroke-width="1.8"/>
<path d="M1259.40,739.60V782.00" stroke-width="0.7"/>
<path d="M1283.60,739.60V782.00" stroke-width="0.7"/>
<rect x="1306.30" y="695.85" width="10.70" height="10.10" stroke-width="2.1"/><path d="M1311.65,695.85V705.95" stroke-width="1.5"/>
<path d="M1298.50,717.6Q1299.50,711 1311.65,711Q1323.80,711 1324.80,717.6" stroke-width="2"/>
<path d="M1302.10,729.4A9.55,10.2 0 0 1 1321.20,729.4" stroke-width="2.2"/>
<path d="M1306.05,722.60V729.40" stroke-width="1.4"/>
<path d="M1309.75,720.60V729.40" stroke-width="1.4"/>
<path d="M1313.55,720.60V729.40" stroke-width="1.4"/>
<path d="M1317.25,722.60V729.40" stroke-width="1.4"/>
<path d="M1298.50,729.60H1324.80" stroke-width="2.0"/>
<rect x="1302.10" y="740.60" width="19.10" height="10.20" stroke-width="2.0"/><path d="M1306.38,740.60V750.80" stroke-width="1.5"/><path d="M1311.65,740.60V750.80" stroke-width="1.5"/><path d="M1316.93,740.60V750.80" stroke-width="1.5"/>
<path d="M1302.10,751.00V782.00" stroke-width="1.8"/>
<path d="M1321.20,751.00V782.00" stroke-width="1.8"/>
<path d="M1299.90,739.60V782.00" stroke-width="0.7"/>
<path d="M1323.40,739.60V782.00" stroke-width="0.7"/>
</g>
</g>
<g id="dots">
<g fill="#0a0a0a">
<circle cx="276.9" cy="639.0" r="4.15"/>
<circle cx="281.2" cy="653.3" r="4.15"/>
<circle cx="294.0" cy="661.6" r="4.15"/>
<circle cx="309.2" cy="664.8" r="4.15"/>
<circle cx="324.6" cy="665.6" r="4.15"/>
<circle cx="339.9" cy="665.8" r="4.15"/>
<circle cx="355.1" cy="665.6" r="4.15"/>
<circle cx="370.5" cy="665.3" r="4.15"/>
<circle cx="385.8" cy="665.0" r="4.15"/>
<circle cx="401.0" cy="664.6" r="4.15"/>
<circle cx="417.8" cy="669.9" r="4.15"/>
<circle cx="427.4" cy="685.1" r="4.15"/>
<circle cx="441.7" cy="695.9" r="4.15"/>
<circle cx="459.2" cy="697.8" r="4.15"/>
<circle cx="475.3" cy="697.7" r="4.15"/>
<circle cx="491.4" cy="697.7" r="4.15"/>
<circle cx="507.5" cy="697.7" r="4.15"/>
<circle cx="523.6" cy="697.7" r="4.15"/>
<circle cx="539.7" cy="697.7" r="4.15"/>
<circle cx="555.9" cy="697.7" r="4.15"/>
<circle cx="572.0" cy="697.7" r="4.15"/>
<circle cx="588.1" cy="697.7" r="4.15"/>
<circle cx="604.2" cy="697.7" r="4.15"/>
<circle cx="620.3" cy="697.7" r="4.15"/>
<circle cx="636.4" cy="697.7" r="4.15"/>
<circle cx="652.5" cy="697.6" r="4.15"/>
<circle cx="669.8" cy="695.7" r="4.15"/>
<circle cx="682.0" cy="684.9" r="4.15"/>
<circle cx="689.2" cy="669.0" r="4.15"/>
<circle cx="704.1" cy="660.9" r="4.15"/>
<circle cx="721.1" cy="658.0" r="4.15"/>
<circle cx="738.4" cy="657.5" r="4.15"/>
<circle cx="755.2" cy="657.3" r="4.15"/>
<circle cx="771.5" cy="657.3" r="4.15"/>
<circle cx="788.1" cy="657.3" r="4.15"/>
<circle cx="804.6" cy="657.3" r="4.15"/>
<circle cx="821.0" cy="657.0" r="4.15"/>
<circle cx="837.5" cy="657.0" r="4.15"/>
<circle cx="854.1" cy="656.8" r="4.15"/>
<circle cx="870.6" cy="656.6" r="4.15"/>
<circle cx="887.2" cy="656.1" r="4.15"/>
<circle cx="902.6" cy="653.9" r="4.15"/>
<circle cx="916.2" cy="647.0" r="4.15"/>
<circle cx="926.6" cy="635.4" r="4.15"/>
<circle cx="933.0" cy="621.3" r="4.15"/>
<circle cx="934.2" cy="605.9" r="4.15"/>
<circle cx="934.7" cy="590.8" r="4.15"/>
<circle cx="934.7" cy="575.4" r="4.15"/>
<circle cx="934.5" cy="560.1" r="4.15"/>
<circle cx="934.0" cy="544.5" r="4.15"/>
<circle cx="933.8" cy="529.1" r="4.15"/>
<circle cx="933.3" cy="513.5" r="4.15"/>
<circle cx="264.7" cy="638.1" r="4.15"/>
<circle cx="265.2" cy="653.3" r="4.15"/>
<circle cx="265.2" cy="668.5" r="4.15"/>
<circle cx="265.2" cy="683.7" r="4.15"/>
<circle cx="264.9" cy="699.0" r="4.15"/>
<circle cx="266.2" cy="715.5" r="4.15"/>
<circle cx="271.1" cy="731.4" r="4.15"/>
<circle cx="280.7" cy="744.8" r="4.15"/>
<circle cx="294.8" cy="754.1" r="4.15"/>
<circle cx="310.8" cy="759.2" r="4.15"/>
<circle cx="327.3" cy="760.8" r="4.15"/>
<circle cx="343.9" cy="760.8" r="4.15"/>
<circle cx="360.4" cy="760.8" r="4.15"/>
<circle cx="376.9" cy="760.8" r="4.15"/>
<circle cx="393.2" cy="760.8" r="4.15"/>
<circle cx="409.5" cy="760.8" r="4.15"/>
<circle cx="426.0" cy="760.8" r="4.15"/>
<circle cx="442.0" cy="760.8" r="4.15"/>
<circle cx="458.5" cy="760.6" r="4.15"/>
<circle cx="474.9" cy="760.6" r="4.15"/>
<circle cx="491.4" cy="760.6" r="4.15"/>
<circle cx="507.8" cy="760.6" r="4.15"/>
<circle cx="524.3" cy="760.6" r="4.15"/>
<circle cx="540.7" cy="760.6" r="4.15"/>
<circle cx="557.2" cy="760.6" r="4.15"/>
<circle cx="573.6" cy="760.6" r="4.15"/>
<circle cx="590.1" cy="760.6" r="4.15"/>
<circle cx="606.5" cy="760.6" r="4.15"/>
<circle cx="623.0" cy="760.6" r="4.15"/>
<circle cx="639.2" cy="767.6" r="4.15"/>
<circle cx="649.7" cy="781.4" r="4.15"/>
<circle cx="652.5" cy="798.5" r="4.15"/>
<circle cx="655.8" cy="814.7" r="4.15"/>
<circle cx="666.3" cy="826.8" r="4.15"/>
<circle cx="680.9" cy="834.1" r="4.15"/>
<circle cx="697.0" cy="837.1" r="4.15"/>
<circle cx="712.9" cy="837.6" r="4.15"/>
<circle cx="729.5" cy="837.6" r="4.15"/>
<circle cx="745.9" cy="837.6" r="4.15"/>
<circle cx="762.3" cy="837.6" r="4.15"/>
<circle cx="778.9" cy="837.6" r="4.15"/>
<circle cx="795.3" cy="837.6" r="4.15"/>
<circle cx="811.9" cy="837.6" r="4.15"/>
<circle cx="828.3" cy="837.4" r="4.15"/>
<circle cx="844.7" cy="837.4" r="4.15"/>
<circle cx="861.1" cy="837.4" r="4.15"/>
<circle cx="877.7" cy="837.3" r="4.15"/>
<circle cx="894.1" cy="837.3" r="4.15"/>
<circle cx="910.5" cy="837.3" r="4.15"/>
<circle cx="927.1" cy="837.2" r="4.15"/>
<circle cx="943.5" cy="837.1" r="4.15"/>
<circle cx="959.9" cy="837.1" r="4.15"/>
<circle cx="976.3" cy="837.0" r="4.15"/>
<circle cx="992.9" cy="836.9" r="4.15"/>
<circle cx="1009.3" cy="836.9" r="4.15"/>
<circle cx="1025.7" cy="836.9" r="4.15"/>
<circle cx="1042.3" cy="836.7" r="4.15"/>
<circle cx="1058.7" cy="836.7" r="4.15"/>
<circle cx="1075.1" cy="836.6" r="4.15"/>
<circle cx="1091.4" cy="836.4" r="4.15"/>
<circle cx="1107.8" cy="836.4" r="4.15"/>
<circle cx="1124.4" cy="836.2" r="4.15"/>
<circle cx="1140.8" cy="836.2" r="4.15"/>
<circle cx="1157.4" cy="836.0" r="4.15"/>
<circle cx="1173.8" cy="835.7" r="4.15"/>
<circle cx="1190.2" cy="835.5" r="4.15"/>
<circle cx="1206.8" cy="835.3" r="4.15"/>
<circle cx="1223.2" cy="834.6" r="4.15"/>
<circle cx="1240.1" cy="829.4" r="4.15"/>
<circle cx="1252.2" cy="817.2" r="4.15"/>
<circle cx="1258.3" cy="801.1" r="4.15"/>
<circle cx="1258.8" cy="783.6" r="4.15"/>
</g>
</g>
<g id="portrait">
<defs>
<clipPath id="pc"><circle cx="1408.5" cy="138.4" r="126.9"/></clipPath>
<filter id="b1" x="-20%" y="-20%" width="140%" height="140%"><feGaussianBlur stdDeviation="1.6"/></filter>
<filter id="b2" x="-30%" y="-30%" width="160%" height="160%"><feGaussianBlur stdDeviation="3.2"/></filter>
<filter id="b3" x="-40%" y="-40%" width="180%" height="180%"><feGaussianBlur stdDeviation="6"/></filter>
<radialGradient id="skin" cx="0.5" cy="0.42" r="0.62"><stop offset="0" stop-color="#f5c4a4"/><stop offset="0.55" stop-color="#f0b899"/><stop offset="1" stop-color="#e0a486"/></radialGradient>
<clipPath id="fc"><path d="M1348.5,118C1347,90 1349,68 1360,49C1370,34 1386,24 1411.5,23.6C1440,24 1456,34 1467.5,49C1476,64 1476,90 1474.5,118C1475.5,150 1472,172 1463,190C1451,208 1432,217 1414,217C1397,217 1381,209 1371,194C1360,176 1348.5,150 1348.5,118Z"/></clipPath>
</defs>
<circle cx="1408.5" cy="138.4" r="128.4" fill="#fefefe"/>
<g clip-path="url(#pc)">
<g filter="url(#b1)">
<path d="M1318,240L1362.5,206.5L1367.5,275L1318,275Z" fill="#3b3e45"/>
<path d="M1464,208L1492,231.5L1505,275L1466,275Z" fill="#2f333d"/>
<path d="M1365,208L1369,262" stroke="#c9ccd4" stroke-width="3" fill="none"/>
<path d="M1463.5,210L1465,258" stroke="#c9ccd4" stroke-width="3" fill="none"/>
<path d="M1409,247L1423,247L1434,262L1428,275L1400,275L1394.5,262Z" fill="#a4182b"/>
</g>
<g filter="url(#b1)">
<path d="M1374,190L1458,190L1456,208L1418,248L1411,248L1377,212Z" fill="#efc2a6"/>
<path d="M1378,213L1412,247" stroke="#d9a68c" stroke-width="2.2" fill="none"/>
<path d="M1456,208L1419,247" stroke="#c99a80" stroke-width="2.4" fill="none"/>
</g>
<g filter="url(#b1)">
<ellipse cx="1344.5" cy="126" rx="7.5" ry="24" fill="#e9a58b"/>
<ellipse cx="1484" cy="122" rx="8.5" ry="23" fill="#eba78c"/>
<path d="M1342,118C1341,90 1343,66 1355,46C1365,30 1382,17.4 1411.5,17.2C1444,17.4 1462,30 1473,46C1482,62 1481.4,90 1480.5,118L1480,125L1342,125Z" fill="#7a5a46"/>
<path d="M1352,52C1360,38 1372,27 1386,21.5" stroke="#3f2a1e" stroke-width="4.5" fill="none"/>
<path d="M1438,21.5C1452,27 1466,40 1474.5,56" stroke="#3f2a1e" stroke-width="4.5" fill="none"/>
<path d="M1348.5,118C1347,90 1349,68 1360,49C1370,34 1386,24 1411.5,23.6C1440,24 1456,34 1467.5,49C1476,64 1476,90 1474.5,118C1475.5,150 1472,172 1463,190C1451,208 1432,217 1414,217C1397,217 1381,209 1371,194C1360,176 1348.5,150 1347.5,118Z" fill="url(#skin)"/>
<path d="M1348,114C1347,90 1348.5,72 1356,55" stroke="#7a5a48" stroke-width="6.5" fill="none" opacity="0.9"/>
<path d="M1475.5,114C1476.5,90 1475,72 1468.5,55" stroke="#7a5a48" stroke-width="6.5" fill="none" opacity="0.9"/>
</g>
<g clip-path="url(#fc)"><g filter="url(#b2)">
<ellipse cx="1411" cy="25" rx="34" ry="8" fill="#927558" opacity="0.9"/>
<ellipse cx="1411" cy="38" rx="40" ry="9" fill="#c48c6a" opacity="0.7"/>
<ellipse cx="1362" cy="160" rx="8" ry="26" fill="#d99877" opacity="0.55"/>
<ellipse cx="1465" cy="160" rx="8" ry="26" fill="#d99877" opacity="0.55"/>
<ellipse cx="1414" cy="212" rx="30" ry="7" fill="#c99476" opacity="0.6"/>
<ellipse cx="1413" cy="197" rx="36" ry="10" fill="#dca687" opacity="0.6"/>
<ellipse cx="1412" cy="72" rx="38" ry="26" fill="#f7c8a4" opacity="0.7"/>
</g></g>
<g filter="url(#b2)">
<ellipse cx="1384.5" cy="112.5" rx="20" ry="9" fill="#b57c64" opacity="0.8"/>
<ellipse cx="1438" cy="109.8" rx="20" ry="9" fill="#b57c64" opacity="0.8"/>
<ellipse cx="1411" cy="157" rx="14" ry="4.5" fill="#bd8468" opacity="0.85"/>
<ellipse cx="1390" cy="148" rx="3.5" ry="6" fill="#c98d74" opacity="0.8"/>
<ellipse cx="1432" cy="148.5" rx="3.8" ry="5.5" fill="#c58a72" opacity="0.8"/>
<ellipse cx="1411" cy="135" rx="7" ry="14" fill="#f6c4a4" opacity="0.7"/>
</g>
<g filter="url(#b1)">
<path d="M1375,105.5Q1384,102.5 1394,106.5" stroke="#8d5a48" stroke-width="5" fill="none"/>
<path d="M1424,102.5Q1440,99 1457,103" stroke="#93624c" stroke-width="5.4" fill="none"/>
<ellipse cx="1384" cy="116" rx="11" ry="3.8" fill="#7a4336"/>
<ellipse cx="1384" cy="116.4" rx="4.6" ry="3.4" fill="#53241c"/>
<ellipse cx="1439" cy="113.6" rx="11" ry="3.8" fill="#7a4336"/>
<ellipse cx="1440.6" cy="113.8" rx="5" ry="3.6" fill="#53241c"/>
<path d="M1346,113H1366M1403,112.5Q1411,109.5 1420,111.5M1458,109.5H1479" stroke="#9b6c60" stroke-width="2.2" fill="none"/>
<path d="M1366,122.5Q1384,127.5 1402,123" stroke="#c4937f" stroke-width="1.8" fill="none"/>
<path d="M1421,120.5Q1439,125.5 1457,121" stroke="#c4937f" stroke-width="1.8" fill="none"/>
<path d="M1405.5,112V126M1418,111V127" stroke="#b07e6c" stroke-width="1.8" fill="none"/>
<path d="M1384,168.6Q1397,171.8 1412,171.4Q1428,171 1440,168.2" stroke="#ad6656" stroke-width="3.6" fill="none"/>
<path d="M1392,163.5Q1412,160.5 1432,163.5" stroke="#dc9a8a" stroke-width="3" fill="none"/>
<path d="M1393,177Q1412,181 1432,176.5" stroke="#e6a58f" stroke-width="3.4" fill="none"/>
<path d="M1345,116V140" stroke="#c77f68" stroke-width="2.4" fill="none"/>
<path d="M1483,112V136" stroke="#c77f68" stroke-width="2.4" fill="none"/>
</g>
</g>
<circle cx="1408.5" cy="138.4" r="126.5" fill="none" stroke="#d2d4d4" stroke-width="3.8"/>
</g>
<text y="146.3" font-family="'Liberation Sans', 'DejaVu Sans', sans-serif" font-weight="bold" font-size="47.8" fill="#fff"><tspan x="8.3" textLength="225.1" lengthAdjust="spacingAndGlyphs">БЛИЗОСТЬ</tspan> <tspan x="245.9" textLength="31.3" lengthAdjust="spacingAndGlyphs">К</tspan> <tspan x="290.0" textLength="106.7" lengthAdjust="spacingAndGlyphs">ТЕЛУ</tspan></text>
<text y="298.9" font-family="'Liberation Sans', 'DejaVu Sans', sans-serif" font-weight="bold" font-size="33.6" fill="#111"><tspan x="1130.8" textLength="126.9" lengthAdjust="spacingAndGlyphs">СТАРАЯ</tspan></text>
<text y="335.8" font-family="'Liberation Sans', 'DejaVu Sans', sans-serif" font-weight="bold" font-size="33.2" fill="#111"><tspan x="1130.5" textLength="178.4" lengthAdjust="spacingAndGlyphs">ПЛОЩАДЬ</tspan></text>
<text y="550.8" font-family="'Liberation Sans', 'DejaVu Sans', sans-serif" font-weight="bold" font-size="33.4" fill="#111"><tspan x="1253.3" textLength="165.3" lengthAdjust="spacingAndGlyphs">РОСАТОМ</tspan></text>
<text y="629.2" font-family="'Liberation Sans', 'DejaVu Sans', sans-serif" font-weight="bold" font-size="35.6" fill="#111" stroke="#111" stroke-width="0.5"><tspan x="645.5" textLength="80.9" lengthAdjust="spacingAndGlyphs">2000</tspan> <tspan x="737.2" textLength="146.4" lengthAdjust="spacingAndGlyphs">МЕТРОВ</tspan></text>
<text y="811.4" font-family="'Liberation Sans', 'DejaVu Sans', sans-serif" font-weight="bold" font-size="35.6" fill="#111" stroke="#111" stroke-width="0.5"><tspan x="742.8" textLength="80.9" lengthAdjust="spacingAndGlyphs">3000</tspan> <tspan x="834.1" textLength="146.4" lengthAdjust="spacingAndGlyphs">МЕТРОВ</tspan></text>
<text y="913.8" font-family="'DejaVu Serif', 'Liberation Serif', serif" font-weight="bold" style="font-variant:small-caps;letter-spacing:1.2px" font-size="27.6" fill="#0c0c0c" stroke="#0c0c0c" stroke-width="0.55" stroke-linejoin="round"><tspan x="-1.0" textLength="75.7" lengthAdjust="spacingAndGlyphs">Став</tspan> <tspan x="84.0" textLength="136.9" lengthAdjust="spacingAndGlyphs">первым</tspan> <tspan x="229.0" textLength="249.7" lengthAdjust="spacingAndGlyphs">заместителем</tspan> <tspan x="487.0" textLength="100.9" lengthAdjust="spacingAndGlyphs">главы</tspan> <tspan x="595.7" textLength="68.8" lengthAdjust="spacingAndGlyphs">АП,</tspan> <tspan x="676.2" textLength="113.9" lengthAdjust="spacingAndGlyphs">Сергей</tspan> <tspan x="799.2" textLength="172.0" lengthAdjust="spacingAndGlyphs">Кириенко</tspan> <tspan x="980.8" textLength="229.0" lengthAdjust="spacingAndGlyphs">приблизился</tspan> <tspan x="1217.2" textLength="23.1" lengthAdjust="spacingAndGlyphs">к</tspan> <tspan x="1248.5" textLength="144.7" lengthAdjust="spacingAndGlyphs">первому</tspan> <tspan x="1400.9" textLength="87.2" lengthAdjust="spacingAndGlyphs">лицу</tspan></text>
<text y="966.4" font-family="'DejaVu Serif', 'Liberation Serif', serif" font-weight="bold" style="font-variant:small-caps;letter-spacing:1.2px" font-size="27.6" fill="#0c0c0c" stroke="#0c0c0c" stroke-width="0.55" stroke-linejoin="round"><tspan x="-1.0" textLength="20.8" lengthAdjust="spacingAndGlyphs">и</tspan> <tspan x="29.9" textLength="163.7" lengthAdjust="spacingAndGlyphs">нарастил</tspan> <tspan x="202.0" textLength="254.9" lengthAdjust="spacingAndGlyphs">политический</tspan> <tspan x="466.0" textLength="55.2" lengthAdjust="spacingAndGlyphs">вес</tspan></text>
</svg>
</body>
</html>
